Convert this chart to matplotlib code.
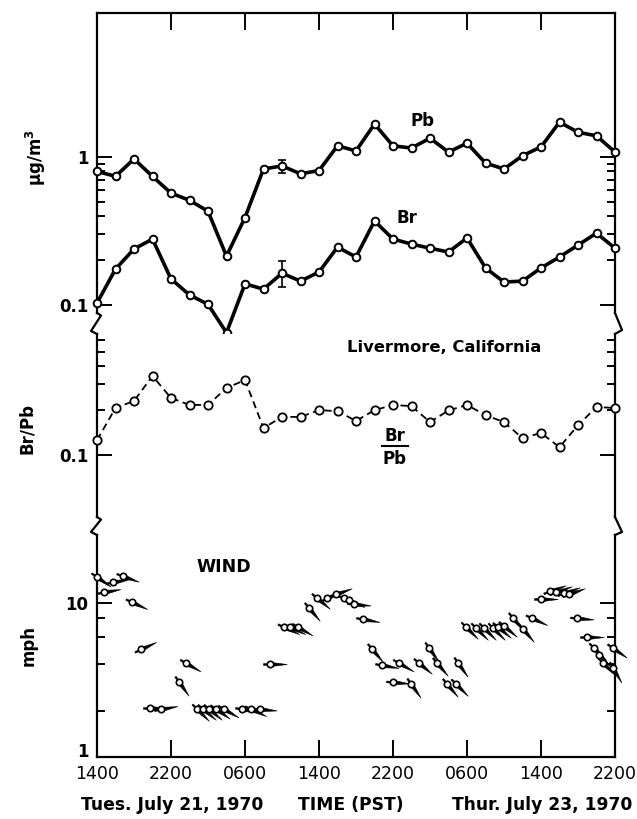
import numpy as np
from matplotlib import pyplot as plt
from matplotlib.path import Path
from matplotlib.markers import MarkerStyle
from matplotlib.transforms import Affine2D, ScaledTranslation
from matplotlib.lines import Line2D

plt.rcParams['font.family'] = ['DejaVu Sans']
plt.rcParams['font.weight'] = 'bold'

# hours after 1400 Tue July 21, 1970 (2 h samples)
hours = np.arange(0, 57, 2)
pb = [0.80, 0.74, 0.97, 0.74, 0.57, 0.51, 0.43, 0.214, 0.39, 0.83,
      0.87, 0.77, 0.81, 1.19, 1.10, 1.67, 1.19, 1.15, 1.34, 1.08,
      1.24, 0.91, 0.83, 1.02, 1.17, 1.72, 1.47, 1.39, 1.08]
br = [0.103, 0.175, 0.239, 0.279, 0.150, 0.117, 0.101, 0.065, 0.139, 0.128,
      0.164, 0.145, 0.167, 0.246, 0.211, 0.37, 0.279, 0.258, 0.242, 0.228,
      0.284, 0.178, 0.143, 0.145, 0.178, 0.211, 0.254, 0.306, 0.242]
ratio = [0.126, 0.208, 0.232, 0.342, 0.243, 0.218, 0.218, 0.284, 0.321, 0.152,
         0.181, 0.181, 0.201, 0.198, 0.170, 0.201, 0.218, 0.214, 0.167, 0.200,
         0.218, 0.186, 0.167, 0.130, 0.141, 0.113, 0.159, 0.211, 0.208]
# error bars (hour, low, high)
pb_err = (20, 0.78, 0.955)
br_err = (20, 0.133, 0.198)

wind_hour = [0.0, 0.8, 1.7, 2.8, 3.8, 4.8, 5.7, 6.9, 8.9, 9.6,
             10.8, 11.5, 12.1, 12.9, 13.7, 15.7, 16.6, 17.6, 18.7, 20.2,
             20.9, 21.7, 22.9, 23.8, 24.9, 25.8, 26.7, 27.2, 27.8, 28.8,
             29.7, 30.8, 32.0, 32.7, 33.9, 34.8, 35.9, 36.8, 37.8, 38.8,
             39.0, 39.9, 41.0, 41.8, 42.8, 43.4, 44.0, 45.0, 46.0, 47.0,
             48.0, 49.0, 49.6, 50.5, 51.0, 51.9, 53.0, 53.7, 54.3, 54.7,
             55.8, 55.8]
wind_mph = [14.8, 11.8, 13.7, 15.0, 10.1, 5.0, 2.08, 2.05, 3.07, 4.08,
            2.05, 2.05, 2.05, 2.05, 2.05, 2.05, 2.05, 2.05, 4.0, 7.0,
            7.0, 7.0, 9.3, 10.8, 10.8, 11.4, 10.8, 10.4, 9.8, 7.9,
            5.0, 3.96, 3.06, 4.08, 3.0, 4.08, 5.1, 4.08, 3.0, 3.0,
            4.08, 7.0, 6.9, 6.9, 6.9, 7.0, 7.1, 8.0, 6.8, 8.0,
            10.6, 11.9, 11.8, 11.6, 11.4, 8.0, 6.0, 5.1, 4.6, 4.1,
            5.1, 3.8]
# direction the arrow head points, degrees on the page
wind_dir = [-35, 10, 10, -20, -25, 25, 0, 10, -55, -30,
            -45, -40, -40, -35, -30, -10, -25, -5, 0, -25,
            -25, -30, -50, -40, 25, 20, -20, -25, -5, -10,
            -50, -10, -5, -30, -55, -40, -55, -50, -50, -45,
            -55, -45, -45, -45, -45, -40, -40, -50, -50, -25,
            0, 20, 20, 20, 20, -5, 0, -45, -45, -45,
            -35, -60]

xticks = [0, 8, 16, 24, 32, 40, 48, 56]
xlabels = ['1400', '2200', '0600', '1400', '2200', '0600', '1400', '2200']

W, H = 637, 819
fig = plt.figure(figsize=(W / 100, H / 100), dpi=100)


def px_axes(top, bottom, left=97, right=615):
    return fig.add_axes([left / W, 1 - bottom / H, (right - left) / W, (bottom - top) / H])


ax1 = px_axes(13, 313)
ax2 = px_axes(334, 517)
ax3 = px_axes(535, 757)

lw_sp = 1.6
for ax in (ax1, ax2, ax3):
    ax.set_yscale('log')
    ax.set_xlim(0, 56)
    for s in ax.spines.values():
        s.set_linewidth(lw_sp)
    ax.tick_params(axis='y', which='both', direction='in', left=True, right=True, width=1.4)
    ax.tick_params(axis='y', which='major', length=11, labelsize=12, pad=6)
    ax.tick_params(axis='y', which='minor', length=6)
    ax.set_xticks(xticks)

ax1.spines['bottom'].set_visible(False)
ax2.spines['bottom'].set_visible(False)
ax2.spines['top'].set_visible(False)
ax3.spines['top'].set_visible(False)

ax1.tick_params(axis='x', direction='in', top=True, bottom=False, labelbottom=False, length=12, width=1.4)
ax2.tick_params(axis='x', top=False, bottom=False, labelbottom=False)
ax3.tick_params(axis='x', direction='in', top=False, bottom=True, length=12, width=1.4, labelsize=12.5, pad=6)
ax3.set_xticklabels(xlabels, fontweight='normal')

# top panel: Pb and Br
ax1.set_ylim(10 ** -1.054, 10 ** 0.973)
ax1.set_yticks([0.1, 1])
ax1.set_yticklabels(['0.1', '1'])
ax1.set_yticks([0.2, 0.3, 0.4, 0.5, 0.6, 0.7, 0.8, 0.9], minor=True)
ax1.yaxis.set_minor_formatter(plt.NullFormatter())
mk = dict(marker='o', ms=5.5, mfc='white', mec='black', mew=1.4, color='black', clip_on=False)
ax1.plot(hours, pb, lw=2.6, zorder=3, **mk)
ax1.plot(hours, br, lw=2.6, zorder=3, **mk)
for h, lo, hi in (pb_err, br_err):
    ax1.errorbar([h], [np.sqrt(lo * hi)], yerr=[[np.sqrt(lo * hi) - lo], [hi - np.sqrt(lo * hi)]],
                 fmt='none', ecolor='black', elinewidth=1.2, capsize=3, capthick=1.2, zorder=2)
ax1.text(35.2, 1.75, 'Pb', fontsize=12, ha='center', va='center')
ax1.text(33.5, 0.39, 'Br', fontsize=12, ha='center', va='center')

# middle panel: Br/Pb
ax2.set_ylim(10 ** -1.419, 10 ** -0.182)
ax2.set_yticks([0.1])
ax2.set_yticklabels(['0.1'])
ax2.set_yticks([0.2, 0.3, 0.4, 0.5, 0.6], minor=True)
ax2.yaxis.set_minor_formatter(plt.NullFormatter())
ax2.plot(hours, ratio, lw=1.3, ls=(0, (4, 2.5)), zorder=3,
         marker='o', ms=6, mfc='white', mec='black', mew=1.3, color='black', clip_on=False)
ax2.text(37.5, 0.53, 'Livermore, California', fontsize=11.8, ha='center', va='center')
ax2.text(32.2, 0.135, 'Br', fontsize=12, ha='center', va='center')
ax2.plot([30.8, 33.6], [0.115, 0.115], color='black', lw=1.5)
ax2.text(32.2, 0.094, 'Pb', fontsize=12, ha='center', va='center')

# bottom panel: wind
ax3.set_ylim(1, 10 ** 1.442)
ax3.set_yticks([1, 10])
ax3.set_yticklabels(['1', '10'])
ax3.set_yticks([2, 4, 6, 8], minor=True)
ax3.yaxis.set_minor_formatter(plt.NullFormatter())
# lift the bottom "1" a little so it clears the time labels
lab1 = ax3.get_yticklabels()[0]
lab1.set_transform(lab1.get_transform() + ScaledTranslation(0, 5 / 72, fig.dpi_scale_trans))
ax3.text(13.7, 17.2, 'WIND', fontsize=12.5, ha='center', va='center')

tail = [(-0.42, -0.05), (0, -0.05), (0, 0.05), (-0.42, 0.05), (-0.42, -0.05)]
head = [(-0.04, 0), (0, 0.13), (1.0, 0), (0, -0.13), (-0.04, 0)]
codes = [Path.MOVETO, Path.LINETO, Path.LINETO, Path.LINETO, Path.CLOSEPOLY]
arrow = Path(tail + head, codes + codes)
for h, v, d in zip(wind_hour, wind_mph, wind_dir):
    m = MarkerStyle(arrow, transform=Affine2D().rotate_deg(d))
    ax3.plot([h], [v], marker=m, ms=24, color='black', mew=0.4, ls='none', clip_on=False, zorder=3)
ax3.plot(wind_hour, wind_mph, 'o', ms=4.6, mfc='white', mec='black', mew=1.2, ls='none',
         clip_on=False, zorder=4)

# axis breaks
def fig_line(xs, ys):
    fig.add_artist(Line2D(np.array(xs) / W, 1 - np.array(ys) / H, color='black', lw=lw_sp,
                          transform=fig.transFigure))


fig_line([97, 101, 91, 97], [313, 315.5, 331, 334])
fig_line([615, 622, 615], [313, 330, 334])
fig_line([97, 101, 91, 97], [517, 519.5, 532, 535])
fig_line([615, 622, 615], [517, 532, 535])

# axis titles
fig.text(36 / W, 1 - 158 / H, r'$\mathregular{\mu g/m^3}$', rotation=90, fontsize=12,
         ha='center', va='center')
fig.text(27 / W, 1 - 428 / H, 'Br/Pb', rotation=90, fontsize=12, ha='center', va='center')
fig.text(29 / W, 1 - 646 / H, 'mph', rotation=90, fontsize=12, ha='center', va='center')

fig.text(172 / W, 1 - 805 / H, 'Tues. July 21, 1970', fontsize=12.3, ha='center', va='center')
fig.text(351 / W, 1 - 805 / H, 'TIME (PST)', fontsize=12.3, ha='center', va='center')
fig.text(542 / W, 1 - 805 / H, 'Thur. July 23, 1970', fontsize=12.3, ha='center', va='center')

fig.savefig('out.png', dpi=100)
